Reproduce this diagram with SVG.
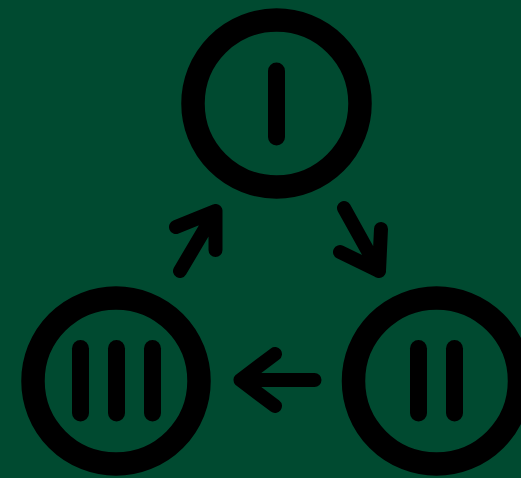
<svg xmlns="http://www.w3.org/2000/svg" width="521" height="478" viewBox="0 0 521 478">
<style>
.ring{fill:none;stroke:#000;stroke-width:23.5}
.bar{fill:none;stroke:#000;stroke-width:17;stroke-linecap:round}
.arr{fill:none;stroke:#000;stroke-width:14;stroke-linecap:round;stroke-linejoin:round}
</style>
<rect width="521" height="478" fill="#004a30"/>
<g id="node-I">
<circle class="ring" cx="276.5" cy="103.5" r="83.5"/>
<line class="bar" x1="276.5" y1="71" x2="276.5" y2="137"/>
</g>
<g id="node-II">
<circle class="ring" cx="436.5" cy="381" r="83"/>
<line class="bar" x1="418.5" y1="348.5" x2="418.5" y2="413"/>
<line class="bar" x1="454.5" y1="348.5" x2="454.5" y2="413"/>
</g>
<g id="node-III">
<circle class="ring" cx="116" cy="381" r="83"/>
<line class="bar" x1="80.5" y1="348.5" x2="80.5" y2="413"/>
<line class="bar" x1="116.5" y1="348.5" x2="116.5" y2="413"/>
<line class="bar" x1="152.5" y1="348.5" x2="152.5" y2="413"/>
</g>
<g id="connectors">
<path class="arr" d="M180,271 L215.5,211 M176,227 L215.5,211 L215.5,250"/>
<path class="arr" d="M344,208 L379,271 M381,229 L379,271 L340,252"/>
<path class="arr" d="M314.5,380 L240.5,380 M275,354 L240.5,380 L275,406"/>
</g>
</svg>
